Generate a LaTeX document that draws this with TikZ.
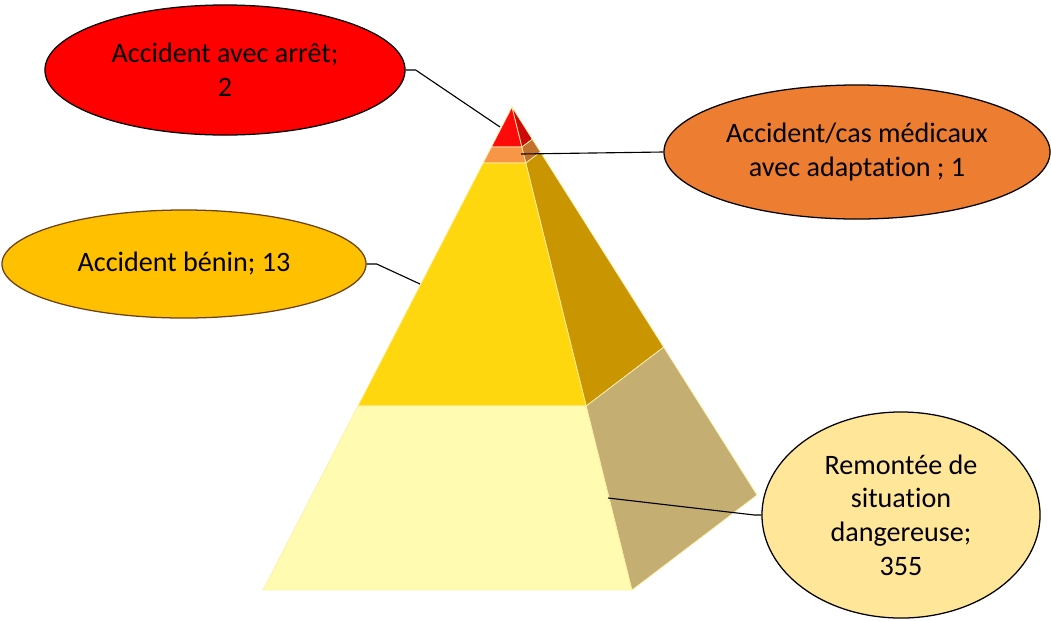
\documentclass[tikz,border=0pt]{standalone}
\usepackage{fontspec}
\setmainfont[Ligatures=NoCommon]{Carlito}
\usepackage{tikz}
\usetikzlibrary{shapes.geometric,calc}

\definecolor{frontred}{HTML}{FF0A0A}
\definecolor{sidered}{HTML}{CC0A0A}
\definecolor{frontorange}{HTML}{F79646}
\definecolor{sideorange}{HTML}{C0722E}
\definecolor{frontyellow}{HTML}{FFD70F}
\definecolor{sideyellow}{HTML}{C99500}
\definecolor{frontpale}{HTML}{FFFBB0}
\definecolor{sidepale}{HTML}{C4AE72}
\definecolor{edgepale}{HTML}{FFF0A8}
\definecolor{ellred}{HTML}{FF0000}
\definecolor{ellorange}{HTML}{ED7D31}
\definecolor{ellgold}{HTML}{FFC000}
\definecolor{ellbrown}{HTML}{6B4218}
\definecolor{ellpale}{HTML}{FFE699}

\begin{document}
\begin{tikzpicture}[x=0.025cm,y=-0.025cm]
  \tikzstyle{bubble}=[ellipse,draw=black,line width=0.9pt,inner sep=0pt,
                      align=center,font=\fontsize{20}{24}\selectfont]
  \tikzstyle{face}=[draw=edgepale,line width=0.5pt]
  \tikzstyle{leader}=[draw=black,line width=0.8pt]

  \useasboundingbox (0,0) rectangle (1051,620);

  % pyramid corners
  \coordinate (apex) at (512,107);
  \coordinate (fl) at (263,590);
  \coordinate (fr) at (632,590);
  \coordinate (br) at (757,495);

  % bands: front face and right face
  \foreach \ta/\tb/\front/\side in {0/0.083/frontred/sidered,
      0.083/0.116/frontorange/sideorange,
      0.116/0.619/frontyellow/sideyellow,
      0.619/1/frontpale/sidepale}
  {
    \fill[face,fill=\front] ($(apex)!\ta!(fl)$) -- ($(apex)!\ta!(fr)$)
      -- ($(apex)!\tb!(fr)$) -- ($(apex)!\tb!(fl)$) -- cycle;
    \fill[face,fill=\side] ($(apex)!\ta!(fr)$) -- ($(apex)!\ta!(br)$)
      -- ($(apex)!\tb!(br)$) -- ($(apex)!\tb!(fr)$) -- cycle;
  }

  % points on the pyramid
  \coordinate (ptop) at (500,127);
  \coordinate (porange) at (521,154);
  \coordinate (pbenin) at (420,284);
  \coordinate (pbase) at (608,498);

  % labels
  \node[bubble,fill=ellred,minimum width=9cm,minimum height=3.25cm]
    (arret) at (225,70) {Accident avec arrêt;\\2};
  \node[bubble,fill=ellorange,minimum width=9.65cm,minimum height=3.35cm]
    (adapt) at (857,152) {Accident/cas médicaux\\avec adaptation ; 1};
  \node[bubble,draw=ellbrown,fill=ellgold,minimum width=9.1cm,minimum height=2.7cm]
    (benin) at (184,264) {Accident bénin; 13};
  \node[bubble,fill=ellpale,minimum width=6.95cm,minimum height=5.15cm]
    (remontee) at (901,515) {Remontée de\\situation\\dangereuse;\\355};

  % leaders
  \draw[leader] (arret.east) -- ++(10,0) -- (ptop);
  \draw[leader] (adapt.west) -- (porange);
  \draw[leader] (benin.east) -- ++(10,0) -- (pbenin);
  \draw[leader] (remontee.west) -- ++(-7,0) -- (pbase);
\end{tikzpicture}
\end{document}
